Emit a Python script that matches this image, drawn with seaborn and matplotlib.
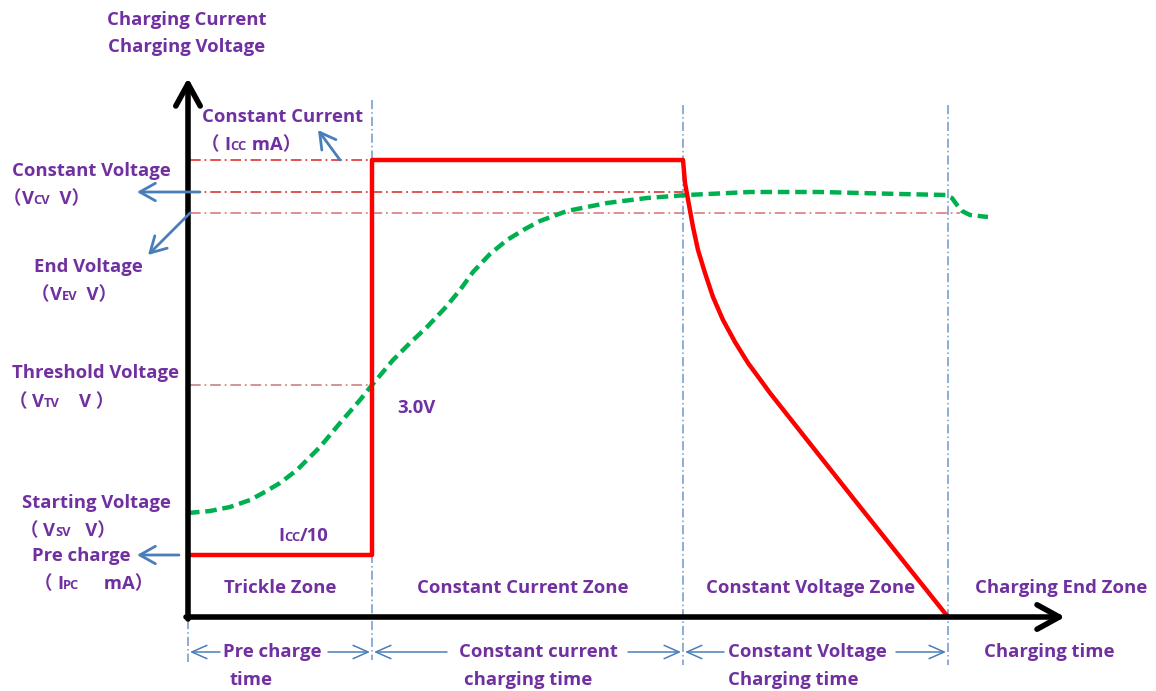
import numpy as np
import pandas as pd
import seaborn as sns
import matplotlib.pyplot as plt

# ---- diagram data (time in arbitrary units, level in arbitrary units) ----
zone_edges = [0.0, 1.84, 4.95, 7.60]
time_axis_end = 8.77
level_axis_end = 5.39

# reference levels
level_icc = 4.57   # constant current
level_vcv = 4.25   # constant voltage
level_vev = 4.04   # end voltage
level_vtv = 2.32   # threshold voltage (3.0V)
level_vsv = 1.04   # starting voltage
level_ipc = 0.62   # pre charge current

# charging voltage curve (green dashed)
volt_t = [0.00, 0.22, 0.42, 0.62, 0.75, 0.92, 1.09, 1.32, 1.52, 1.72,
          1.84, 2.05, 2.22, 2.39, 2.57, 2.72, 2.85, 3.02, 3.19, 3.37,
          3.52, 3.79, 4.19, 4.59, 4.99, 5.62, 6.32, 7.12, 7.58, 7.64,
          7.69, 7.74, 7.82, 8.00]
volt_v = [1.04, 1.06, 1.10, 1.17, 1.24, 1.34, 1.47, 1.70, 1.94, 2.17,
          2.32, 2.57, 2.74, 2.90, 3.09, 3.27, 3.45, 3.63, 3.77, 3.88,
          3.96, 4.06, 4.14, 4.19, 4.22, 4.25, 4.25, 4.23, 4.22, 4.19,
          4.12, 4.06, 4.02, 4.00]

# charging current curve (red solid)
curr_t = [0.00, 1.84, 1.84, 4.95, 4.97, 5.01, 5.05, 5.10, 5.17, 5.25,
          5.35, 5.47, 5.60, 5.74, 5.82, 5.97, 6.65, 7.60]
curr_v = [0.62, 0.62, 4.57, 4.57, 4.34, 4.12, 3.90, 3.67, 3.44, 3.20,
          2.97, 2.75, 2.54, 2.35, 2.24, 2.05, 1.19, 0.00]

zone_names = ["Trickle Zone", "Constant Current Zone", "Constant Voltage Zone", "Charging End Zone"]

W, H = 1156, 691
PURPLE = "#7030A0"
BLUE = "#4A7EBB"
FONT = ["Open Sans", "Noto Sans CJK SC", "DejaVu Sans"]
FS = 13.3


def fp(x, y):
    # pixel position in the picture -> figure fraction (text placement only)
    return x / W, (H - y) / H


def main():
    sns.set_style("white")
    plt.rcParams["font.family"] = FONT
    plt.rcParams["font.weight"] = "bold"

    fig = plt.figure(figsize=(W / 100, H / 100), dpi=100)
    ax = fig.add_axes([0, 0, 1, 1])

    # dash-dot reference levels
    dd = (0, (7, 2.5, 1.2, 2.5))
    ax.plot([0.02, zone_edges[1]], [level_icc] * 2, color="#E02020", lw=1.1, ls=dd)
    ax.plot([0.02, zone_edges[2]], [level_vcv] * 2, color="#D42828", lw=1.1, ls=dd)
    ax.plot([0.02, 7.72], [level_vev] * 2, color="#D87070", lw=1.1, ls=dd)
    ax.plot([0.02, zone_edges[1]], [level_vtv] * 2, color="#C87878", lw=1.1, ls=dd)

    # zone boundaries (blue dash-dot)
    vdd = (0, (6, 2, 1, 2))
    ax.plot([zone_edges[0]] * 2, [-0.03, -0.45], color="#6F97CC", lw=1.1, ls=vdd)
    ax.plot([zone_edges[1]] * 2, [5.17, -0.43], color="#6F97CC", lw=1.1, ls=vdd)
    for e in zone_edges[2:]:
        ax.plot([e] * 2, [5.12, -0.48], color="#6F97CC", lw=1.1, ls=vdd)

    # curves
    volt = pd.DataFrame({"t": volt_t, "v": volt_v})
    curr = pd.DataFrame({"t": curr_t, "v": curr_v})
    sns.lineplot(data=volt, x="t", y="v", ax=ax, color="#00B050", lw=3.2,
                 sort=False, estimator=None, linestyle=(0, (2.6, 1.3)))
    sns.lineplot(data=curr, x="t", y="v", ax=ax, color="#FF0000", lw=3.2,
                 sort=False, estimator=None)
    ax.set_xlim(-1.88, 9.68)
    ax.set_ylim(-0.74, 6.17)
    ax.axis("off")

    # main axes with arrow heads
    head = "->,head_length=1.0,head_width=0.55"
    ax.annotate("", xy=(time_axis_end, 0), xytext=(-0.02, 0),
                arrowprops=dict(arrowstyle=head, lw=4, color="black",
                                mutation_scale=16, shrinkA=0, shrinkB=0))
    ax.annotate("", xy=(0, level_axis_end), xytext=(0, -0.02),
                arrowprops=dict(arrowstyle=head, lw=4, color="black",
                                mutation_scale=16, shrinkA=0, shrinkB=0))

    # blue pointer arrows
    pa = dict(arrowstyle="->,head_length=0.8,head_width=0.45", lw=2, color=BLUE,
              mutation_scale=14, shrinkA=0, shrinkB=0)
    ax.annotate("", xy=(1.30, 4.87), xytext=(1.52, level_icc), arrowprops=pa)
    ax.annotate("", xy=(-0.51, level_vcv), xytext=(0.12, level_vcv), arrowprops=pa)
    ax.annotate("", xy=(-0.40, 3.62), xytext=(0.02, level_vev), arrowprops=pa)
    ax.annotate("", xy=(-0.51, level_ipc), xytext=(-0.09, level_ipc), arrowprops=pa)

    # time span arrows under the axis
    sa = dict(arrowstyle="->,head_length=0.9,head_width=0.4", lw=1.1, color=BLUE,
              mutation_scale=12, shrinkA=0, shrinkB=0)
    y_span = -0.35
    spans = [(0.32, 0.02), (1.40, 1.82),
             (2.59, 1.86), (4.40, 4.93),
             (5.36, 4.97), (7.08, 7.58)]
    for a, b in spans:
        ax.annotate("", xy=(b, y_span), xytext=(a, y_span), arrowprops=sa)

    # ---- text ----
    tk = dict(color=PURPLE, fontsize=FS, fontweight="bold", ha="center", va="center",
              transform=fig.transFigure, family=FONT)

    def label(x, y, s, **kw):
        d = dict(tk)
        d.update(kw)
        ax.text(*fp(x, y), s, **d)

    def rich(x, y, parts):
        # left aligned text made of pieces, small pieces act as small-cap subscripts
        fx, fy = fp(x, y)
        prev = ax.text(fx, fy, parts[0][0], color=PURPLE, fontsize=FS * parts[0][1],
                       fontweight="bold", ha="left", va="baseline",
                       transform=fig.transFigure, family=FONT)
        for s, sc in parts[1:]:
            prev = ax.annotate(s, xy=(1, fy), xycoords=(prev, "figure fraction"),
                               color=PURPLE, fontsize=FS * sc, fontweight="bold",
                               ha="left", va="baseline", family=FONT)

    label(187, 20, "Charging Current")
    label(187, 47, "Charging Voltage")
    label(283, 117, "Constant Current")
    rich(201, 150, [("（ ", 1), ("I", 1), ("CC", 0.7), (" mA）", 1)])
    label(91, 171, "Constant Voltage")
    rich(3, 204, [("（", 1), ("V", 1), ("CV", 0.7), ("  V）", 1)])
    label(88, 267, "End Voltage")
    rich(31, 300, [("（", 1), ("V", 1), ("EV", 0.7), ("  V）", 1)])
    label(95, 373, "Threshold Voltage")
    rich(9, 407, [("（ ", 1), ("V", 1), ("TV", 0.7), ("    V ）", 1)])
    label(96, 503, "Starting Voltage")
    rich(20, 536, [("（ ", 1), ("V", 1), ("SV", 0.7), ("   V）", 1)])
    label(81, 556, "Pre charge")
    rich(34, 589, [("（ ", 1), ("I", 1), ("PC", 0.7), ("     mA）", 1)])

    label(416, 408, "3.0V")
    rich(278, 541, [("I", 1), ("CC", 0.7), ("/10", 1)])

    for name, xc in zip(zone_names, [280, 523, 811, 1061]):
        label(xc, 588, name)

    label(272, 652, "Pre charge")
    label(251, 680, "time")
    label(538, 652, "Constant current")
    label(528, 680, "charging time")
    label(807, 652, "Constant Voltage")
    label(793, 680, "Charging time")
    label(1049, 652, "Charging time")

    fig.savefig("out.png", dpi=100)


if __name__ == "__main__":
    main()
